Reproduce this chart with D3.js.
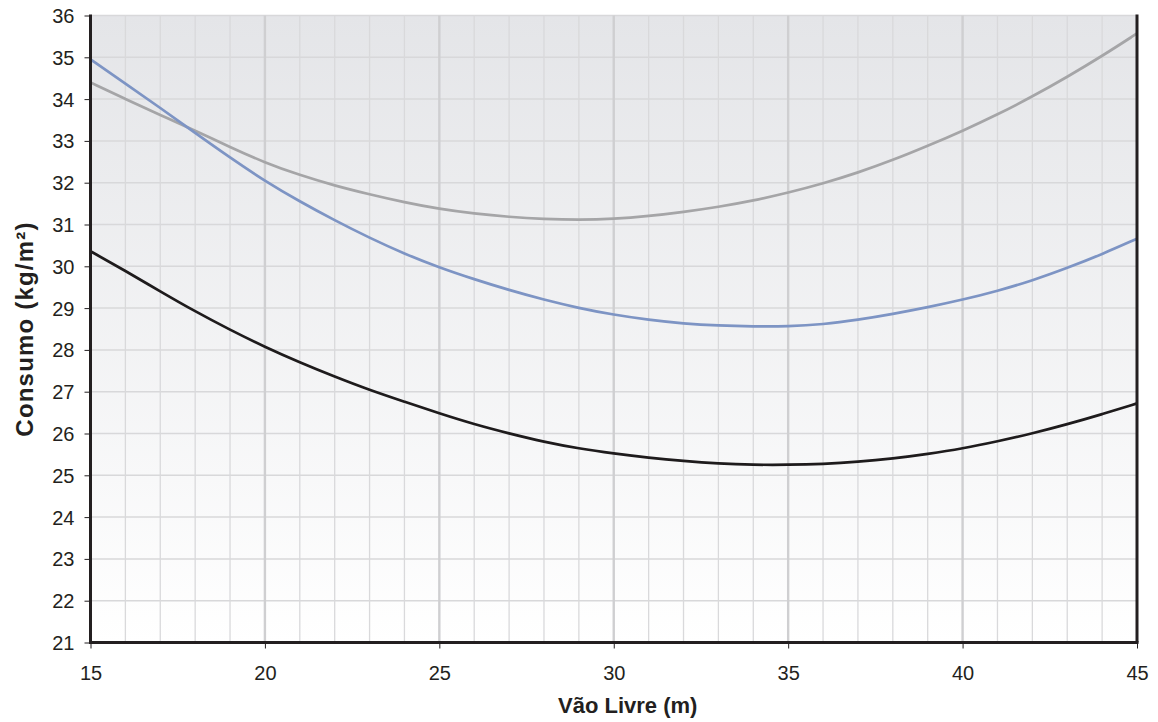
<!DOCTYPE html>
<html><head><meta charset="utf-8">
<script src="https://cdn.jsdelivr.net/npm/d3@7"></script>
<style>body{margin:0;background:#fff}svg{display:block}</style>
</head><body>
<svg id="c" width="1158" height="722"></svg>
<script>
const vaos = d3.range(15, 46);
const serieCinza = [34.40,34.00,33.62,33.25,32.85,32.48,32.18,31.93,31.72,31.53,31.37,31.26,31.18,31.13,31.11,31.13,31.20,31.30,31.42,31.57,31.76,31.98,32.24,32.54,32.88,33.24,33.63,34.06,34.53,35.03,35.57];
const serieAzul = [34.95,34.37,33.79,33.19,32.60,32.04,31.55,31.10,30.68,30.30,29.97,29.69,29.43,29.20,29.00,28.84,28.72,28.63,28.58,28.56,28.56,28.61,28.72,28.86,29.02,29.20,29.41,29.66,29.96,30.29,30.66];
const seriePreta = [30.36,29.89,29.40,28.92,28.48,28.07,27.70,27.36,27.04,26.76,26.48,26.22,26.00,25.80,25.64,25.52,25.42,25.34,25.28,25.25,25.25,25.27,25.32,25.40,25.51,25.64,25.81,26.00,26.22,26.46,26.72];
const xTicks = [15,20,25,30,35,40,45];
const yTicks = d3.range(21, 37);
const xTitle = "Vão Livre (m)";
const yTitle = "Consumo (kg/m²)";

const svg = d3.select("#c");
const L = 90.5, R = 1137, T = 15.5, B = 642.5;
const x = d3.scaleLinear().domain([15,45]).range([L,R]);
const y = d3.scaleLinear().domain([21,36]).range([B,T]);
const FONT = "Liberation Sans, Arial, sans-serif";

const defs = svg.append("defs");
const g = defs.append("linearGradient").attr("id","bg").attr("x1",0).attr("y1",0).attr("x2",0).attr("y2",1);
g.append("stop").attr("offset","0%").attr("stop-color","#e4e5e8");
g.append("stop").attr("offset","100%").attr("stop-color","#ffffff");
svg.append("rect").attr("x",L).attr("y",T).attr("width",R-L).attr("height",B-T).attr("fill","url(#bg)");

// horizontal grid
svg.append("g").selectAll("line").data(yTicks.slice(1)).join("line")
  .attr("x1",L).attr("x2",R).attr("y1",d=>y(d)).attr("y2",d=>y(d))
  .attr("stroke","#d8d8da").attr("stroke-width",1.5);
// minor vertical grid
svg.append("g").selectAll("line").data(vaos.filter(v=>v%5!==0)).join("line")
  .attr("x1",d=>x(d)).attr("x2",d=>x(d)).attr("y1",T).attr("y2",B)
  .attr("stroke","#d9d9db").attr("stroke-width",1.3);
// major vertical grid
svg.append("g").selectAll("line").data(xTicks.slice(1,-1)).join("line")
  .attr("x1",d=>x(d)).attr("x2",d=>x(d)).attr("y1",T).attr("y2",B)
  .attr("stroke","#cfcfd1").attr("stroke-width",2.4);

const line = d3.line().x(d=>x(d[0])).y(d=>y(d[1])).curve(d3.curveBasis);
const series = [[serieCinza,"#a5a5a7"],[serieAzul,"#7d94c4"],[seriePreta,"#1e1b1c"]];
series.forEach(([vals,col])=>{
  svg.append("path").datum(vaos.map((v,i)=>[v,vals[i]]))
    .attr("d",line).attr("fill","none").attr("stroke",col).attr("stroke-width",2.7);
});

// axes
const xAxis = svg.append("g").attr("transform",`translate(0,${B})`)
  .call(d3.axisBottom(x).tickValues(xTicks).tickSize(6).tickPadding(17).tickFormat(d3.format("d")));
const yAxis = svg.append("g").attr("transform",`translate(${L},0)`)
  .call(d3.axisLeft(y).tickValues(yTicks).tickSize(6).tickPadding(10).tickFormat(d3.format("d")));
[xAxis,yAxis].forEach(a=>{
  a.select(".domain").remove();
  a.selectAll(".tick line").attr("stroke","#231f20").attr("stroke-width",1);
  a.selectAll("text").attr("font-family",FONT).attr("font-size",20).attr("fill","#231f20");
});
yAxis.selectAll("text").attr("dy","0.35em");
// axis lines
svg.append("line").attr("x1",L).attr("x2",L).attr("y1",T-1).attr("y2",B+1.5).attr("stroke","#231f20").attr("stroke-width",3);
svg.append("line").attr("x1",L-1.5).attr("x2",R+1.5).attr("y1",B).attr("y2",B).attr("stroke","#231f20").attr("stroke-width",3);
svg.append("line").attr("x1",R).attr("x2",R).attr("y1",T-1).attr("y2",B).attr("stroke","#231f20").attr("stroke-width",3);

svg.append("text").attr("x",(L+R)/2 + 14).attr("y",713).attr("text-anchor","middle")
  .attr("font-family",FONT).attr("font-size",22).attr("font-weight","bold").attr("fill","#231f20").text(xTitle);
svg.append("text").attr("transform",`translate(33,${(T+B)/2}) rotate(-90)`).attr("text-anchor","middle")
  .attr("font-family",FONT).attr("font-size",24).attr("letter-spacing","1.2px").attr("font-weight","bold").attr("fill","#231f20").text(yTitle);
</script>
</body></html>
